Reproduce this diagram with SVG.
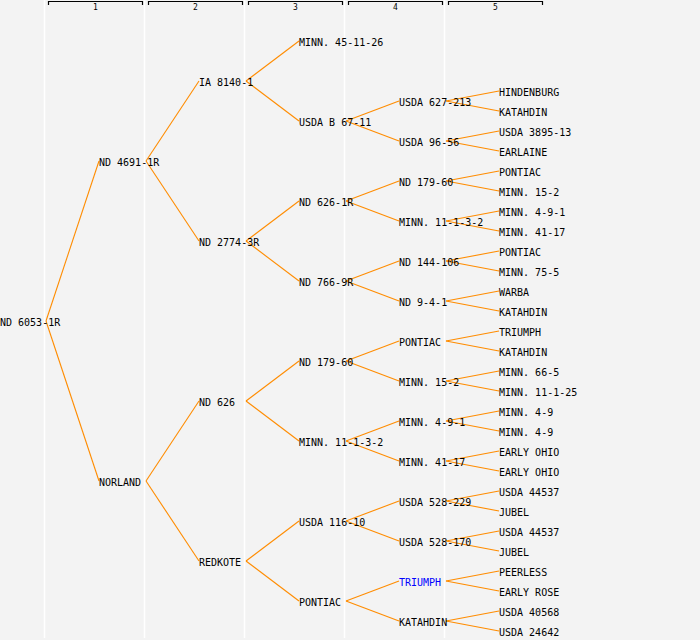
<svg xmlns="http://www.w3.org/2000/svg" width="700" height="640" viewBox="0 0 700 640">
<style>
text{font-family:"DejaVu Sans Mono","Liberation Mono",monospace;font-size:10px;fill:#000}
.hd{font-size:8px;text-anchor:middle}
.sep{stroke:#fff;stroke-width:1.5}
.br{fill:none;stroke:#000;stroke-width:1.2}
#connectors line{stroke:#ff8c00;stroke-width:1.1}
.hl{fill:#0000ff}
</style>
<rect width="700" height="640" fill="#f3f3f3"/>
<g id="grid">
<line class="sep" x1="44.5" y1="0" x2="44.5" y2="638"/>
<line class="sep" x1="144.5" y1="0" x2="144.5" y2="638"/>
<line class="sep" x1="244.5" y1="0" x2="244.5" y2="638"/>
<line class="sep" x1="344.5" y1="0" x2="344.5" y2="638"/>
<line class="sep" x1="444.5" y1="0" x2="444.5" y2="638"/>
</g>
<g id="header">
<path class="br" d="M48.5,5V1.5H142.5V5"/><text class="hd" x="95.5" y="9.5">1</text>
<path class="br" d="M148.5,5V1.5H242.5V5"/><text class="hd" x="195.5" y="9.5">2</text>
<path class="br" d="M248.5,5V1.5H342.5V5"/><text class="hd" x="295.5" y="9.5">3</text>
<path class="br" d="M348.5,5V1.5H442.5V5"/><text class="hd" x="395.5" y="9.5">4</text>
<path class="br" d="M448.5,5V1.5H542.5V5"/><text class="hd" x="495.5" y="9.5">5</text>
</g>
<g id="connectors">
<line x1="46" y1="321" x2="99" y2="161"/><line x1="46" y1="321" x2="99" y2="481"/>
<line x1="146" y1="161" x2="199" y2="81"/><line x1="146" y1="161" x2="199" y2="241"/>
<line x1="146" y1="481" x2="199" y2="401"/><line x1="146" y1="481" x2="199" y2="561"/>
<line x1="246" y1="81" x2="299" y2="41"/><line x1="246" y1="81" x2="299" y2="121"/>
<line x1="246" y1="241" x2="299" y2="201"/><line x1="246" y1="241" x2="299" y2="281"/>
<line x1="246" y1="401" x2="299" y2="361"/><line x1="246" y1="401" x2="299" y2="441"/>
<line x1="246" y1="561" x2="299" y2="521"/><line x1="246" y1="561" x2="299" y2="601"/>
<line x1="346" y1="121" x2="399" y2="101"/><line x1="346" y1="121" x2="399" y2="141"/>
<line x1="346" y1="201" x2="399" y2="181"/><line x1="346" y1="201" x2="399" y2="221"/>
<line x1="346" y1="281" x2="399" y2="261"/><line x1="346" y1="281" x2="399" y2="301"/>
<line x1="346" y1="361" x2="399" y2="341"/><line x1="346" y1="361" x2="399" y2="381"/>
<line x1="346" y1="441" x2="399" y2="421"/><line x1="346" y1="441" x2="399" y2="461"/>
<line x1="346" y1="521" x2="399" y2="501"/><line x1="346" y1="521" x2="399" y2="541"/>
<line x1="346" y1="601" x2="399" y2="581"/><line x1="346" y1="601" x2="399" y2="621"/>
<line x1="446" y1="101" x2="499" y2="91"/><line x1="446" y1="101" x2="499" y2="111"/>
<line x1="446" y1="141" x2="499" y2="131"/><line x1="446" y1="141" x2="499" y2="151"/>
<line x1="446" y1="181" x2="499" y2="171"/><line x1="446" y1="181" x2="499" y2="191"/>
<line x1="446" y1="221" x2="499" y2="211"/><line x1="446" y1="221" x2="499" y2="231"/>
<line x1="446" y1="261" x2="499" y2="251"/><line x1="446" y1="261" x2="499" y2="271"/>
<line x1="446" y1="301" x2="499" y2="291"/><line x1="446" y1="301" x2="499" y2="311"/>
<line x1="446" y1="341" x2="499" y2="331"/><line x1="446" y1="341" x2="499" y2="351"/>
<line x1="446" y1="381" x2="499" y2="371"/><line x1="446" y1="381" x2="499" y2="391"/>
<line x1="446" y1="421" x2="499" y2="411"/><line x1="446" y1="421" x2="499" y2="431"/>
<line x1="446" y1="461" x2="499" y2="451"/><line x1="446" y1="461" x2="499" y2="471"/>
<line x1="446" y1="501" x2="499" y2="491"/><line x1="446" y1="501" x2="499" y2="511"/>
<line x1="446" y1="541" x2="499" y2="531"/><line x1="446" y1="541" x2="499" y2="551"/>
<line x1="446" y1="581" x2="499" y2="571"/><line x1="446" y1="581" x2="499" y2="591"/>
<line x1="446" y1="621" x2="499" y2="611"/><line x1="446" y1="621" x2="499" y2="631"/>
</g>
<g id="n0"><text x="0" y="326">ND 6053-1R</text></g>
<g id="n1a"><text x="99" y="166">ND 4691-1R</text></g>
<g id="n1b"><text x="99" y="486">NORLAND</text></g>
<g id="n2a"><text x="199" y="86">IA 8140-1</text></g>
<g id="n2b"><text x="199" y="246">ND 2774-3R</text></g>
<g id="n2c"><text x="199" y="406">ND 626</text></g>
<g id="n2d"><text x="199" y="566">REDKOTE</text></g>
<g id="n3a"><text x="299" y="46">MINN. 45-11-26</text></g>
<g id="n3b"><text x="299" y="126">USDA B 67-11</text></g>
<g id="n3c"><text x="299" y="206">ND 626-1R</text></g>
<g id="n3d"><text x="299" y="286">ND 766-9R</text></g>
<g id="n3e"><text x="299" y="366">ND 179-60</text></g>
<g id="n3f"><text x="299" y="446">MINN. 11-1-3-2</text></g>
<g id="n3g"><text x="299" y="526">USDA 116-10</text></g>
<g id="n3h"><text x="299" y="606">PONTIAC</text></g>
<g id="n4a"><text x="399" y="106">USDA 627-213</text></g>
<g id="n4b"><text x="399" y="146">USDA 96-56</text></g>
<g id="n4c"><text x="399" y="186">ND 179-60</text></g>
<g id="n4d"><text x="399" y="226">MINN. 11-1-3-2</text></g>
<g id="n4e"><text x="399" y="266">ND 144-106</text></g>
<g id="n4f"><text x="399" y="306">ND 9-4-1</text></g>
<g id="n4g"><text x="399" y="346">PONTIAC</text></g>
<g id="n4h"><text x="399" y="386">MINN. 15-2</text></g>
<g id="n4i"><text x="399" y="426">MINN. 4-9-1</text></g>
<g id="n4j"><text x="399" y="466">MINN. 41-17</text></g>
<g id="n4k"><text x="399" y="506">USDA 528-229</text></g>
<g id="n4l"><text x="399" y="546">USDA 528-170</text></g>
<g id="n4m"><text class="hl" x="399" y="586">TRIUMPH</text></g>
<g id="n4n"><text x="399" y="626">KATAHDIN</text></g>
<g id="n5a"><text x="499" y="96">HINDENBURG</text></g>
<g id="n5b"><text x="499" y="116">KATAHDIN</text></g>
<g id="n5c"><text x="499" y="136">USDA 3895-13</text></g>
<g id="n5d"><text x="499" y="156">EARLAINE</text></g>
<g id="n5e"><text x="499" y="176">PONTIAC</text></g>
<g id="n5f"><text x="499" y="196">MINN. 15-2</text></g>
<g id="n5g"><text x="499" y="216">MINN. 4-9-1</text></g>
<g id="n5h"><text x="499" y="236">MINN. 41-17</text></g>
<g id="n5i"><text x="499" y="256">PONTIAC</text></g>
<g id="n5j"><text x="499" y="276">MINN. 75-5</text></g>
<g id="n5k"><text x="499" y="296">WARBA</text></g>
<g id="n5l"><text x="499" y="316">KATAHDIN</text></g>
<g id="n5m"><text x="499" y="336">TRIUMPH</text></g>
<g id="n5n"><text x="499" y="356">KATAHDIN</text></g>
<g id="n5o"><text x="499" y="376">MINN. 66-5</text></g>
<g id="n5p"><text x="499" y="396">MINN. 11-1-25</text></g>
<g id="n5q"><text x="499" y="416">MINN. 4-9</text></g>
<g id="n5r"><text x="499" y="436">MINN. 4-9</text></g>
<g id="n5s"><text x="499" y="456">EARLY OHIO</text></g>
<g id="n5t"><text x="499" y="476">EARLY OHIO</text></g>
<g id="n5u"><text x="499" y="496">USDA 44537</text></g>
<g id="n5v"><text x="499" y="516">JUBEL</text></g>
<g id="n5w"><text x="499" y="536">USDA 44537</text></g>
<g id="n5x"><text x="499" y="556">JUBEL</text></g>
<g id="n5y"><text x="499" y="576">PEERLESS</text></g>
<g id="n5z"><text x="499" y="596">EARLY ROSE</text></g>
<g id="n5aa"><text x="499" y="616">USDA 40568</text></g>
<g id="n5ab"><text x="499" y="636">USDA 24642</text></g>
</svg>
